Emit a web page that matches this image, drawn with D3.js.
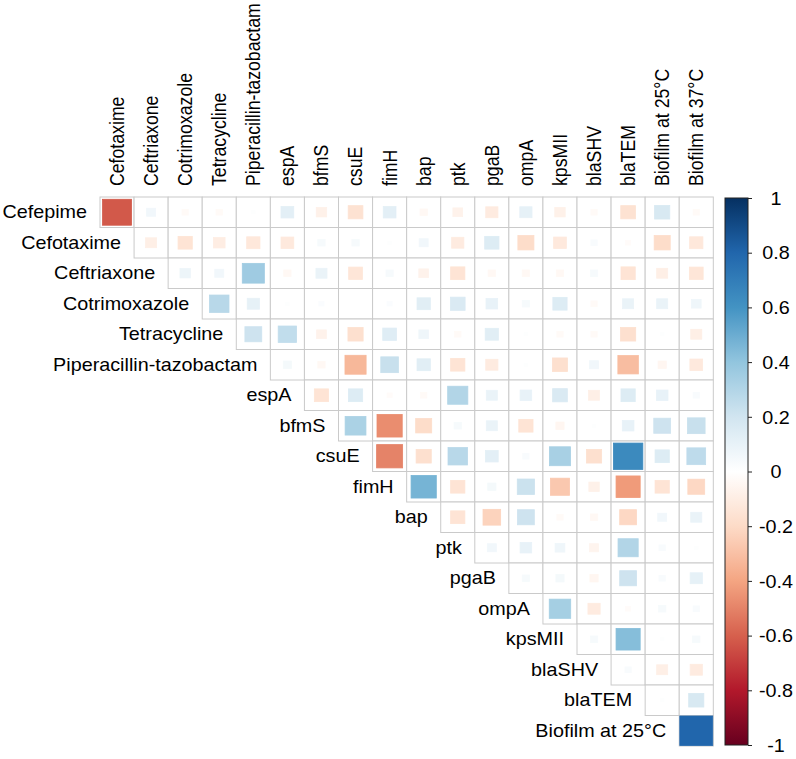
<!DOCTYPE html>
<html>
<head>
<meta charset="utf-8">
<script src="https://cdn.jsdelivr.net/npm/d3@7"></script>
<style>
  body { margin: 0; background: #fff; }
  text { font-family: "Liberation Sans", Arial, sans-serif; fill: #000; }
</style>
</head>
<body>
<div class="chart"></div>
<script>
// variables (rows / columns of the upper triangle)
var rowVars = ["Cefepime", "Cefotaxime", "Ceftriaxone", "Cotrimoxazole", "Tetracycline",
  "Piperacillin-tazobactam", "espA", "bfmS", "csuE", "fimH", "bap", "ptk", "pgaB",
  "ompA", "kpsMII", "blaSHV", "blaTEM", "Biofilm at 25°C"];
var colVars = ["Cefotaxime", "Ceftriaxone", "Cotrimoxazole", "Tetracycline",
  "Piperacillin-tazobactam", "espA", "bfmS", "csuE", "fimH", "bap", "ptk", "pgaB",
  "ompA", "kpsMII", "blaSHV", "blaTEM", "Biofilm at 25°C", "Biofilm at 37°C"];

// correlations, each row starts at the column right after its own variable
var cefepime = [-0.62, 0.06, -0.03, -0.03, 0.01, 0.12, -0.08, -0.16, 0.12, -0.04, -0.07, -0.11, 0.11, -0.08, -0.03, -0.16, 0.17, -0.03];
var cefotaxime = [-0.09, -0.15, -0.10, -0.13, -0.12, 0.04, 0.04, 0.01, 0.06, -0.11, 0.15, -0.19, -0.12, 0.03, -0.02, -0.19, -0.13];
var ceftriaxone = [0.08, 0.06, 0.36, -0.04, 0.09, -0.14, 0.04, -0.07, -0.15, -0.04, -0.04, -0.04, 0.04, -0.15, -0.09, -0.14];
var cotrimoxazole = [0.28, 0.11, 0.01, 0.02, 0.0, 0.02, 0.13, 0.16, 0.10, 0.04, 0.15, -0.03, 0.09, 0.09, 0.07];
var tetracycline = [0.21, 0.25, -0.07, -0.17, 0.14, 0.07, -0.03, 0.13, 0.01, -0.03, -0.03, -0.17, 0.01, -0.09];
var piperacillin = [0.05, -0.04, -0.33, 0.23, 0.13, -0.15, -0.11, 0.01, -0.17, 0.06, -0.31, -0.05, -0.12];
var espA = [-0.15, 0.15, -0.02, -0.03, 0.30, 0.09, 0.10, 0.16, -0.09, 0.15, 0.10, 0.03];
var bfmS = [0.32, -0.47, -0.19, 0.04, 0.09, -0.15, -0.05, 0.01, 0.10, 0.21, 0.23];
var csuE = [-0.50, -0.17, 0.28, 0.12, 0.03, 0.33, -0.17, 0.64, 0.15, 0.26];
var fimH = [0.47, -0.15, 0.05, 0.22, -0.27, -0.08, -0.43, -0.15, -0.21];
var bap = [-0.15, -0.23, 0.21, -0.03, -0.04, -0.21, 0.06, 0.09];
var ptk = [0.06, 0.10, 0.07, -0.06, 0.30, 0.03, 0.01];
var pgaB = [0.04, 0.05, -0.05, 0.21, 0.03, 0.11];
var ompA = [0.34, -0.11, -0.02, 0.04, 0.03];
var kpsMII = [0.04, 0.43, 0.01, 0.04];
var blaSHV = [0.03, -0.09, -0.11];
var blaTEM = [0.01, 0.17];
var biofilm25 = [0.80];

var rows = [cefepime, cefotaxime, ceftriaxone, cotrimoxazole, tetracycline, piperacillin,
  espA, bfmS, csuE, fimH, bap, ptk, pgaB, ompA, kpsMII, blaSHV, blaTEM, biofilm25];

var legendTicks = [1, 0.8, 0.6, 0.4, 0.2, 0, -0.2, -0.4, -0.6, -0.8, -1];

// ========================================================
var svgWidth = 796;
var svgHeight = 759;
var stretch = 1.117; // the picture is a little wider than tall

var svg = d3.select(".chart")
  .append("svg")
  .attr("width", svgWidth)
  .attr("height", svgHeight);

var xScale = d3.scaleBand().domain(colVars).range([100, 713.3]);
var yScale = d3.scaleBand().domain(rowVars).range([197, 746]);
var bw = xScale.bandwidth();
var bh = yScale.bandwidth();

var color = d3.scaleLinear()
  .domain([-1, -0.8, -0.6, -0.4, -0.2, 0, 0.2, 0.4, 0.6, 0.8, 1])
  .range(["#67001F", "#B2182B", "#D6604D", "#F4A582", "#FDDBC7", "#FFFFFF",
    "#D1E5F0", "#92C5DE", "#4393C3", "#2166AC", "#053061"]);

// square side relative to the cell (area ~ |r|, plus the drawn border)
function side(v) {
  return Math.min(1, 1.08 * Math.sqrt(Math.abs(v)));
}

// flatten rows into cells
var cells = [];
rows.forEach(function(vals, i) {
  vals.forEach(function(v, k) {
    cells.push({ row: rowVars[i], col: colVars[i + k], value: v });
  });
});

var chartGroup = svg.append("g");

// grid cells
chartGroup.selectAll("rect.cell")
  .data(cells)
  .enter()
  .append("rect")
  .attr("class", "cell")
  .attr("x", d => xScale(d.col))
  .attr("y", d => yScale(d.row))
  .attr("width", bw)
  .attr("height", bh)
  .attr("fill", "#fff")
  .attr("stroke", "#cacaca")
  .attr("stroke-width", 1);

// squares
chartGroup.selectAll("rect.sq")
  .data(cells)
  .enter()
  .append("rect")
  .attr("class", "sq")
  .attr("x", d => xScale(d.col) + bw / 2 - bw * side(d.value) / 2)
  .attr("y", d => yScale(d.row) + bh / 2 - bh * side(d.value) / 2)
  .attr("width", d => bw * side(d.value))
  .attr("height", d => bh * side(d.value))
  .attr("fill", d => color(d.value))
  .attr("stroke", d => color(d.value))
  .attr("stroke-width", 0.8);

// row labels
chartGroup.selectAll("text.rowlab")
  .data(rowVars)
  .enter()
  .append("text")
  .attr("class", "rowlab")
  .attr("transform", (d, i) => `translate(${xScale(colVars[i]) - 13}, ${yScale(d) + bh / 2}) scale(${stretch},1)`)
  .attr("dy", "0.35em")
  .attr("text-anchor", "end")
  .style("font-size", "17.7px")
  .text(d => d);

// column labels
chartGroup.selectAll("text.collab")
  .data(colVars)
  .enter()
  .append("text")
  .attr("class", "collab")
  .attr("transform", d => `translate(${xScale(d) + bw / 2}, 186) scale(${stretch},1) rotate(-90)`)
  .attr("dy", "0.35em")
  .attr("text-anchor", "start")
  .style("font-size", "17.7px")
  .text(d => d);

// colour legend
var legendY = d3.scaleLinear().domain([1, -1]).range([198, 745]);
var grad = svg.append("defs").append("linearGradient")
  .attr("id", "cbar")
  .attr("x1", 0).attr("y1", 0).attr("x2", 0).attr("y2", 1);
d3.range(0, 1.0001, 0.05).forEach(function(t) {
  grad.append("stop")
    .attr("offset", t)
    .attr("stop-color", color(1 - 2 * t));
});

svg.append("rect")
  .attr("x", 725)
  .attr("y", legendY(1))
  .attr("width", 23)
  .attr("height", legendY(-1) - legendY(1))
  .attr("fill", "url(#cbar)")
  .attr("stroke", "#222")
  .attr("stroke-width", 1);

var legendAxis = svg.append("g")
  .attr("transform", "translate(748,0)")
  .call(d3.axisRight(legendY).tickValues(legendTicks).tickSize(4).tickFormat(d => d === 0 ? "0" : String(d)));
legendAxis.select(".domain").remove();
legendAxis.selectAll("line").attr("stroke", "#222");
legendAxis.selectAll("text")
  .attr("x", null)
  .attr("text-anchor", "middle")
  .attr("transform", `translate(28,0) scale(${stretch},1)`)
  .attr("dy", "0.35em")
  .style("font-family", "'Liberation Sans', Arial, sans-serif")
  .style("font-size", "17.7px")
  .attr("fill", "#000");
</script>
</body>
</html>
